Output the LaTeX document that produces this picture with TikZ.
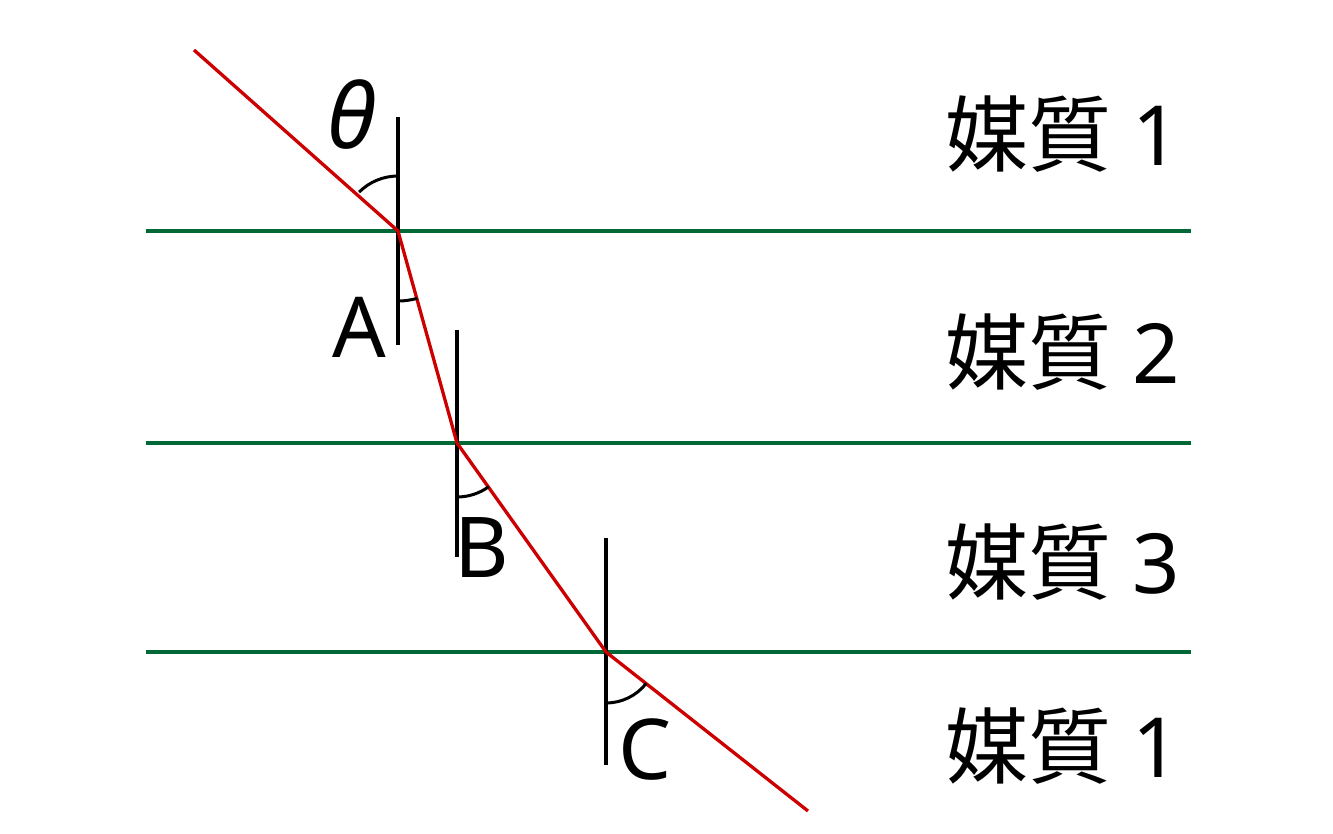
\documentclass[tikz,border=0pt]{standalone}
\usepackage{fontspec}
\setmainfont{Noto Sans}
\newfontfamily\cjkfont{Noto Sans CJK JP}
\begin{document}
\begin{tikzpicture}[x=1pt,y=-1pt,
  boundary/.style={draw={rgb,255:red,0;green,104;blue,55}, line width=3.5pt},
  ray/.style={draw={rgb,255:red,204;green,0;blue,0}, line width=3.3pt},
  normal/.style={draw=black, line width=3.5pt},
  anglearc/.style={draw=black, line width=3pt},
  medium/.style={font=\fontsize{83}{100}\selectfont, anchor=base west, inner sep=0pt},
  lbl/.style={font=\fontsize{84}{100}\selectfont, anchor=base, inner sep=0pt}]
\useasboundingbox (0,0) rectangle (1333,833);
% boundaries
\coordinate (g1l) at (146,231); \coordinate (g1r) at (1191,231);
\coordinate (g2l) at (146,443); \coordinate (g2r) at (1191,443);
\coordinate (g3l) at (146,652); \coordinate (g3r) at (1191,652);
\draw[boundary] (g1l) -- (g1r);
\draw[boundary] (g2l) -- (g2r);
\draw[boundary] (g3l) -- (g3r);
% normals
\coordinate (n1t) at (398,117); \coordinate (n1b) at (398,345);
\coordinate (n2t) at (457,330); \coordinate (n2b) at (457,557);
\coordinate (n3t) at (606,538); \coordinate (n3b) at (606,765);
\draw[normal] (n1t) -- (n1b);
\draw[normal] (n2t) -- (n2b);
\draw[normal] (n3t) -- (n3b);
% ray
\coordinate (s) at (194,50);
\coordinate (pA) at (398,231);
\coordinate (pB) at (457,443);
\coordinate (pC) at (606,652);
\coordinate (e) at (808,811);
\draw[ray] (s) -- (pA) -- (pB) -- (pC) -- (e);
% angle arcs
\draw[anglearc] (398,176) arc[start angle=270, end angle=225, radius=55];
\draw[anglearc] (398,301) arc[start angle=90, end angle=74, radius=70];
\draw[anglearc] (457,497) arc[start angle=90, end angle=54, radius=54];
\draw[anglearc] (606,703) arc[start angle=90, end angle=38, radius=51];
% labels
\node[lbl, font=\fontsize{90}{100}\selectfont\itshape] (th) at (352,148) {θ};
\node[lbl] (la) at (359,357) {A};
\node[lbl] (lb) at (482,577) {B};
\node[lbl] (lc) at (645,779) {C};
\node[medium] (m1) at (945,165) {{\cjkfont 媒質} 1};
\node[medium] (m2) at (945,383) {{\cjkfont 媒質} 2};
\node[medium] (m3) at (945,593) {{\cjkfont 媒質} 3};
\node[medium] (m4) at (945,777) {{\cjkfont 媒質} 1};
\end{tikzpicture}
\end{document}
